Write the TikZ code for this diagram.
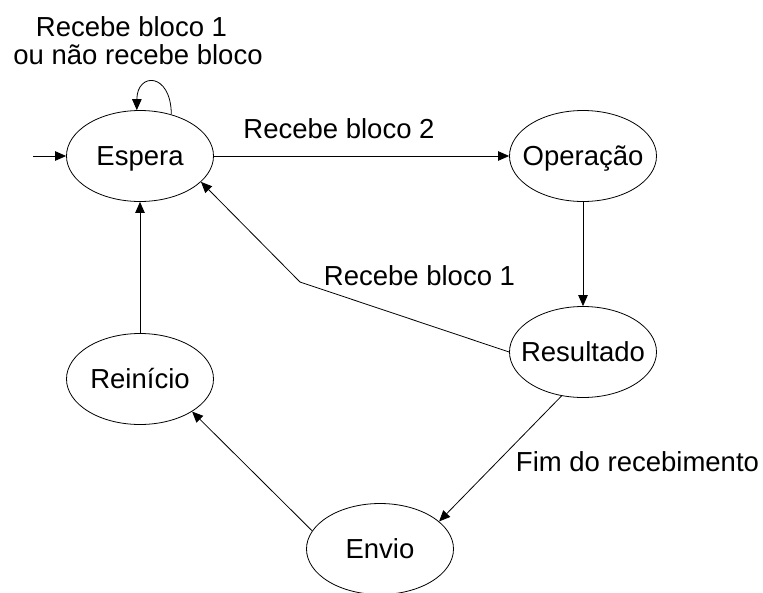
\documentclass[tikz,border=0pt]{standalone}
\usepackage{fontspec}
\setmainfont{Liberation Sans}
\usetikzlibrary{shapes.geometric,arrows.meta}
\begin{document}
\begin{tikzpicture}[x=1pt,y=-1pt,
  state/.style={draw,ellipse,line width=0.8pt,minimum width=147pt,minimum height=91pt,inner sep=0pt,
    font=\fontsize{27.5}{30}\selectfont,text height=19.7pt,text depth=0pt},
  lbl/.style={font=\fontsize{27.5}{30}\selectfont,anchor=base,inner sep=0pt},
  arr/.style={line width=0.8pt,-{Triangle[length=11pt,width=9.5pt]}}]
\useasboundingbox (0,0) rectangle (763,592);
\clip (0,0) rectangle (763,592);
\node[state] (esp) at (140,156) {\makebox[0pt]{Espera}};
\node[state] (op) at (583,156) {\makebox[0pt]{Operação}};
\node[state] (res) at (583,352) {\makebox[0pt]{Resultado}};
\node[state] (rei) at (140,379) {\makebox[0pt]{Reinício}};
\node[state] (env) at (380,549) {\makebox[0pt]{Envio}};
\coordinate (start) at (33,156);
\coordinate (bend) at (300,282);
\draw[arr] (start) -- (esp.west);
\draw[arr] (esp.east) -- (op.west);
\draw[arr] (esp.53) .. controls (171,72) and (137,72) .. (esp.94);
\draw[arr] (rei.north) -- (esp.south);
\draw[arr] (op.south) -- (res.north);
\draw[arr] (res.west) -- (bend) -- (esp.-23);
\draw[arr] (res.-116) -- (env.25);
\draw[arr] (env.165) -- (rei.-32);
\node[lbl] (l1) at (131.5,36) {Recebe bloco 1};
\node[lbl] (l2) at (138,64) {ou não recebe bloco};
\node[lbl] (l3) at (339,138) {Recebe bloco 2};
\node[lbl] (l4) at (419.5,285) {Recebe bloco 1};
\node[lbl] (l5) at (637.5,471) {Fim do recebimento};
\end{tikzpicture}
\end{document}
